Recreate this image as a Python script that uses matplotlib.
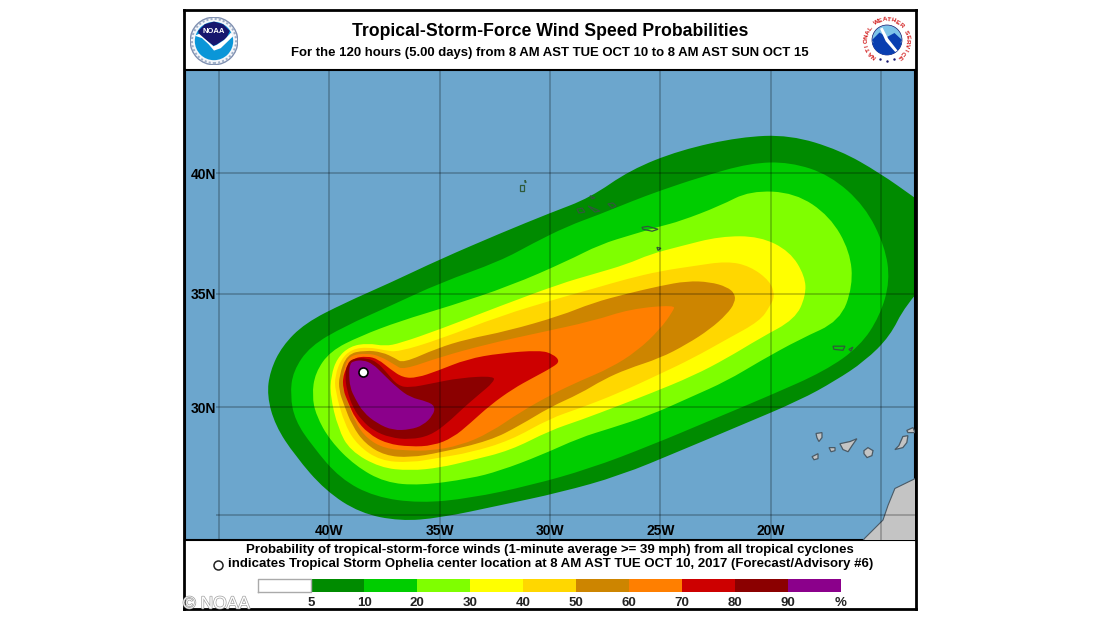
#!/usr/bin/env python3
"""NHC tropical-storm-force wind speed probabilities map, Ophelia advisory #6."""
import matplotlib

matplotlib.use("Agg")
import matplotlib.pyplot as plt
import numpy as np
import matplotlib.patheffects as pe
from matplotlib.patches import Circle, PathPatch, Polygon, Wedge
from matplotlib.path import Path

plt.rcParams["font.family"] = ["Liberation Sans", "DejaVu Sans"]

W, H = 1100, 620

TITLE = "Tropical-Storm-Force Wind Speed Probabilities"
SUBTITLE = "For the 120 hours (5.00 days) from 8 AM AST TUE OCT 10 to 8 AM AST SUN OCT 15"
NOTE_1 = "Probability of tropical-storm-force winds (1-minute average >= 39 mph) from all tropical cyclones"
NOTE_2 = "indicates Tropical Storm Ophelia center location at 8 AM AST TUE OCT 10, 2017 (Forecast/Advisory #6)"

LON_TICKS = [-45, -40, -35, -30, -25, -20, -15]
LON_LABELS = ["", "40W", "35W", "30W", "25W", "20W", ""]
LAT_TICKS = [25, 30, 35, 40]
LAT_LABELS = ["", "30N", "35N", "40N"]

LEGEND_LABELS = ["5", "10", "20", "30", "40", "50", "60", "70", "80", "90", "%"]
LEGEND_COLORS = ["#FFFFFF", "#008B00", "#00CD00", "#7FFF00", "#FFFF00", "#FFD700",
                 "#CD8500", "#FF7F00", "#CD0000", "#8B0000", "#8B008B"]

CENTER_LON = -38.47
CENTER_LAT = 31.57

# probability contours (lon, lat)
LEVEL_05_LON = [-42.81, -42.67, -42.13, -41.09, -39.28, -37.24, -34.98, -32.26, -30.0, -28.19,
                -26.38, -24.12, -21.4, -19.14, -16.88, -15.07, -13.48, -12.35, -12.13, -13.94,
                -14.61, -15.75, -17.1, -18.69, -21.4, -24.12, -26.83, -29.55, -32.26, -34.98,
                -36.79, -38.6, -40.18, -41.54, -42.44]
LEVEL_05_LAT = [30.53, 31.62, 32.72, 33.73, 34.61, 35.46, 36.46, 37.54, 38.38, 39.0,
                40.12, 40.91, 41.43, 41.51, 40.91, 40.0, 39.0, 38.25, 36.38, 34.47,
                33.16, 32.06, 31.18, 30.31, 29.16, 28.0, 26.85, 26.06, 25.46, 24.86,
                24.71, 25.09, 26.16, 27.78, 29.17]
LEVEL_10_LON = [-41.76, -41.63, -40.86, -39.28, -37.24, -34.98, -32.26, -30.77, -29.23, -27.74,
                -26.24, -25.02, -23.21, -20.95, -19.14, -17.33, -15.75, -14.84, -14.61, -15.07,
                -15.97, -17.56, -20.04, -22.76, -25.47, -28.19, -30.9, -33.62, -35.88, -37.92,
                -39.5, -40.77, -41.54]
LEVEL_10_LAT = [30.53, 31.62, 32.72, 33.6, 34.47, 35.46, 36.38, 37.13, 37.83, 38.33,
                38.88, 39.29, 39.83, 40.4, 40.44, 39.92, 38.67, 37.0, 35.54, 34.04,
                32.72, 31.62, 30.53, 29.39, 28.24, 27.18, 26.39, 25.79, 25.56, 25.85,
                26.71, 28.24, 29.4]
LEVEL_20_LON = [-40.77, -40.63, -39.95, -38.6, -36.79, -34.52, -31.81, -29.23, -27.74, -26.24,
                -25.02, -24.12, -22.31, -20.95, -18.91, -17.33, -16.42, -16.29, -16.88, -18.69,
                -20.5, -21.99, -23.66, -25.47, -27.28, -28.64, -30.45, -32.26, -33.62, -35.88,
                -37.47, -38.82, -39.95, -40.59]
LEVEL_20_LAT = [30.53, 31.54, 32.5, 33.16, 33.82, 34.47, 35.33, 36.38, 37.08, 37.5,
                37.83, 38.04, 38.67, 39.29, 39.21, 38.25, 36.79, 35.33, 33.82, 33.03,
                32.06, 31.18, 30.44, 29.63, 29.03, 28.61, 27.78, 27.08, 26.71, 26.39,
                26.53, 27.31, 28.47, 29.63]
LEVEL_30_LON = [-39.95, -39.91, -39.64, -39.05, -38.24, -37.47, -36.79, -34.98, -32.26, -29.55,
                -28.05, -26.52, -25.47, -24.12, -22.31, -20.5, -19.14, -18.46, -18.42, -18.91,
                -20.5, -21.99, -23.53, -25.47, -26.83, -28.64, -30.0, -31.81, -33.62, -34.98,
                -36.33, -37.69, -39.05, -39.59]
LEVEL_30_LAT = [30.53, 31.4, 32.19, 32.72, 32.85, 32.72, 32.85, 33.46, 34.47, 35.42,
                35.83, 36.25, 36.67, 37.0, 37.42, 37.42, 36.79, 35.75, 34.91, 33.9,
                33.07, 32.19, 31.4, 30.61, 30.09, 29.4, 28.94, 28.01, 27.55, 27.22,
                27.08, 27.22, 28.01, 29.03]
LEVEL_40_LON = [-39.73, -39.73, -39.46, -38.96, -38.24, -37.47, -36.88, -34.98, -32.26, -29.55,
                -28.05, -26.52, -25.02, -23.53, -21.99, -20.95, -20.04, -19.82, -20.04, -20.5,
                -21.99, -23.53, -25.02, -26.83, -28.64, -30.0, -31.81, -33.62, -34.98, -36.33,
                -37.69, -38.69, -39.28]
LEVEL_40_LAT = [30.75, 31.4, 32.15, 32.59, 32.68, 32.54, 32.46, 33.03, 34.04, 34.82,
                35.21, 35.63, 35.96, 36.17, 36.38, 36.17, 35.54, 34.91, 34.47, 33.82,
                33.03, 32.19, 31.49, 30.66, 29.95, 29.49, 28.47, 27.92, 27.69, 27.45,
                27.55, 28.24, 29.17]
LEVEL_50_LON = [-39.55, -39.55, -39.19, -38.37, -37.6, -37.01, -36.65, -35.11, -33.76, -31.95,
                -29.55, -28.05, -26.52, -25.02, -23.8, -22.76, -21.99, -21.63, -21.63, -21.99,
                -22.76, -23.8, -25.02, -26.52, -27.6, -28.64, -30.0, -31.36, -32.71, -34.98,
                -36.33, -37.47, -38.37, -38.96, -39.32]
LEVEL_50_LAT = [30.75, 31.4, 32.37, 32.54, 32.46, 32.19, 31.97, 32.63, 33.03, 33.38,
                34.04, 34.61, 35.0, 35.33, 35.54, 35.5, 35.29, 35.0, 34.61, 34.12,
                33.46, 32.81, 32.19, 31.71, 31.23, 30.61, 30.0, 29.17, 28.47, 27.92,
                27.69, 27.78, 28.33, 29.17, 30.09]
LEVEL_60_LON = [-39.41, -39.32, -39.05, -38.28, -37.69, -37.01, -36.65, -34.98, -32.85, -30.59,
                -28.05, -26.38, -24.34, -24.43, -25.02, -26.06, -27.28, -28.64, -29.86, -31.36,
                -32.71, -34.07, -35.43, -36.33, -37.47, -38.28, -38.82, -39.19]
LEVEL_60_LAT = [31.0, 31.8, 32.32, 32.41, 32.28, 31.89, 31.67, 32.24, 32.81, 33.29,
                33.82, 34.34, 34.52, 34.25, 33.46, 32.5, 31.75, 31.18, 30.61, 29.77,
                28.84, 28.24, 28.01, 28.01, 28.1, 28.56, 29.3, 30.31]
LEVEL_70_LON = [-39.37, -39.37, -38.96, -38.28, -37.78, -37.24, -36.65, -36.02, -35.11, -33.76,
                -32.26, -30.45, -29.86, -29.55, -29.86, -30.77, -31.67, -32.71, -33.62, -34.39,
                -35.29, -36.33, -37.38, -38.24, -38.82, -39.14]
LEVEL_70_LAT = [30.79, 31.49, 32.19, 32.28, 32.15, 31.71, 31.32, 31.32, 31.62, 32.15,
                32.41, 32.54, 32.37, 32.06, 31.8, 31.32, 30.83, 30.09, 29.26, 28.61,
                28.24, 28.19, 28.33, 28.8, 29.49, 30.22]
LEVEL_80_LON = [-39.28, -39.19, -38.91, -38.28, -37.83, -37.38, -36.88, -36.33, -35.43, -34.07,
                -32.49, -32.58, -33.17, -33.94, -34.66, -35.43, -36.33, -37.24, -38.01, -38.51,
                -38.91, -39.19]
LEVEL_80_LAT = [31.4, 31.93, 32.19, 32.19, 32.02, 31.54, 30.96, 30.88, 31.05, 31.32,
                31.4, 31.1, 30.61, 29.95, 29.26, 28.7, 28.52, 28.61, 28.94, 29.4,
                29.95, 30.75]
LEVEL_90_LON = [-39.1, -39.05, -38.91, -38.46, -38.01, -37.56, -36.92, -36.33, -35.57, -35.2,
                -35.29, -35.75, -36.33, -37.1, -37.83, -38.46, -38.82, -39.05]
LEVEL_90_LAT = [31.54, 31.93, 32.06, 32.11, 31.93, 31.49, 30.88, 30.44, 30.26, 30.04,
                29.63, 29.17, 28.98, 28.94, 29.26, 29.77, 30.39, 30.88]

AFRICA_LON = [-15.75, -14.93, -14.7, -14.39, -13.48, -13.03, -13.03, -15.97]
AFRICA_LAT = [23.9, 24.76, 25.46, 26.25, 26.71, 26.85, 23.6, 23.6]

# Canaries and the rest, (lons, lats) per island
CANARIES = [
    ([-17.96, -17.69, -17.69, -17.83, -17.92], [28.8, 28.84, 28.61, 28.43, 28.61]),
    ([-17.37, -17.1, -17.1, -17.28], [28.15, 28.15, 28.01, 27.96]),
    ([-16.88, -16.42, -16.11, -16.33, -16.51, -16.74], [28.33, 28.43, 28.56, 28.24, 27.96, 28.06]),
    ([-15.79, -15.61, -15.38, -15.43, -15.65, -15.79], [28.01, 28.15, 28.01, 27.78, 27.69, 27.87]),
    ([-18.14, -17.87, -17.87, -18.05], [27.73, 27.87, 27.64, 27.59]),
    ([-14.21, -14.03, -13.8, -13.85, -14.03, -14.39], [28.24, 28.66, 28.7, 28.38, 28.15, 28.06]),
    ([-13.85, -13.57, -13.48, -13.8], [28.94, 29.07, 28.84, 28.84]),
]
AZORES = [
    ([-31.36, -31.18, -31.18, -31.36], [39.5, 39.5, 39.29, 39.29]),
    ([-31.13, -31.08, -31.13], [39.71, 39.62, 39.62]),
    ([-28.78, -28.55, -28.42, -28.69], [38.54, 38.58, 38.42, 38.38]),
    ([-28.28, -27.74, -27.96], [38.67, 38.46, 38.42]),
    ([-28.19, -27.96, -28.1], [39.08, 39.0, 38.96]),
    ([-27.38, -27.15, -27.01, -27.19], [38.75, 38.79, 38.67, 38.58]),
    ([-25.84, -25.57, -25.11, -25.38, -25.79], [37.79, 37.83, 37.71, 37.63, 37.71]),
    ([-25.16, -24.98, -25.11], [36.96, 36.92, 36.83]),
    ([-17.19, -16.65, -16.74, -17.15], [32.72, 32.72, 32.54, 32.58]),
    ([-16.47, -16.29, -16.38], [32.58, 32.68, 32.5]),
]

OCEAN = "#6CA6CD"
LAND = "#C4C4C4"


def merc(lat):
    return np.arcsinh(np.tan(np.radians(lat)))


def merc_inv(y):
    return np.degrees(np.arctan(np.sinh(y)))


def px_axes(fig, x0, y0, x1, y1, **kw):
    """Axes from a pixel box given with y running down."""
    return fig.add_axes([x0 / W, 1 - y1 / H, (x1 - x0) / W, (y1 - y0) / H], **kw)


def ring_path(lon, lat):
    pts = np.column_stack([lon, lat])
    mids = (pts + np.roll(pts, -1, axis=0)) / 2
    verts = [mids[-1]]
    codes = [Path.MOVETO]
    for p, m in zip(pts, mids):
        verts += [p, m]
        codes += [Path.CURVE3, Path.CURVE3]
    return Path(verts, codes)


def draw_map(fig):
    ax = px_axes(fig, 185, 70, 915, 540)
    ax.set_facecolor(OCEAN)
    ax.set_yscale("function", functions=(merc, merc_inv))
    ax.set_xlim(-46.52, -13.48)
    ax.set_ylim(23.81, 44.0)

    levels = [
        (LEVEL_05_LON, LEVEL_05_LAT), (LEVEL_10_LON, LEVEL_10_LAT), (LEVEL_20_LON, LEVEL_20_LAT),
        (LEVEL_30_LON, LEVEL_30_LAT), (LEVEL_40_LON, LEVEL_40_LAT), (LEVEL_50_LON, LEVEL_50_LAT),
        (LEVEL_60_LON, LEVEL_60_LAT), (LEVEL_70_LON, LEVEL_70_LAT), (LEVEL_80_LON, LEVEL_80_LAT),
        (LEVEL_90_LON, LEVEL_90_LAT),
    ]
    for (lon, lat), color in zip(levels, LEGEND_COLORS[1:]):
        ax.add_patch(PathPatch(ring_path(lon, lat), facecolor=color, edgecolor="none", zorder=2))

    ax.fill(AFRICA_LON, AFRICA_LAT, facecolor=LAND, edgecolor="#4a5a66", lw=0.8, zorder=3)
    for lon, lat in CANARIES:
        ax.fill(lon, lat, facecolor=LAND, edgecolor="#4a5a66", lw=0.9, zorder=3)
    for lon, lat in AZORES:
        ax.fill(lon, lat, facecolor="none", edgecolor="#2f5a3a", lw=0.9, zorder=3)

    # grid stops short of the lat labels on the left
    ax.hlines(LAT_TICKS, -45.1, -13.48, color="black", alpha=0.28, lw=1.1, zorder=4)
    ax.vlines(LON_TICKS, 23.81, 44.0, color="black", alpha=0.28, lw=1.1, zorder=4)

    ax.set_xticks(LON_TICKS, LON_LABELS, fontweight="bold", fontsize=10)
    ax.set_yticks(LAT_TICKS, LAT_LABELS, fontweight="bold", fontsize=10)
    ax.minorticks_off()
    ax.tick_params(axis="x", length=0, pad=-11.8, colors="black")
    ax.tick_params(axis="y", length=0, pad=-22.5, colors="black")
    for label in ax.get_xticklabels() + ax.get_yticklabels():
        label.set_zorder(6)

    ax.plot([CENTER_LON], [CENTER_LAT], "o", ms=6.5, mfc="white", mec="black", mew=1.2, zorder=5)
    for s in ax.spines.values():
        s.set_linewidth(1.5)
    ax.set_axisbelow(False)


def draw_legend(fig):
    ax = px_axes(fig, 258, 579, 841, 592)
    idx = np.arange(len(LEGEND_COLORS))
    ax.bar(idx, np.ones(len(idx)), width=1.0, align="edge", color=LEGEND_COLORS)
    ax.set_xlim(0, len(idx))
    ax.set_ylim(0, 1)
    ax.set_yticks([])
    ax.set_xticks(idx + 1, LEGEND_LABELS, fontweight="bold", fontsize=9.5, color="#222222")
    ax.tick_params(axis="x", length=0, pad=3.5)
    for s in ax.spines.values():
        s.set_visible(False)
    ax.plot([0, 1, 1, 0, 0], [0, 0, 1, 1, 0], color="#aaaaaa", lw=1, clip_on=False)


def noaa_logo(fig):
    ax = px_axes(fig, 190, 17, 238, 65)
    ax.set_xlim(-1, 1)
    ax.set_ylim(-1, 1)
    ax.axis("off")
    ax.add_patch(Circle((0, 0), 0.99, fc="#f4f6fa", ec="#7f8fb0", lw=1))
    ax.add_patch(Circle((0, 0), 0.92, fc="none", ec="#9fb0c8", lw=1.5, ls=(0, (1, 1))))
    ax.add_patch(Circle((0, 0), 0.8, fc="#0a96d8", ec="none"))
    ax.add_patch(Polygon([(-0.66, 0.42), (-0.38, 0.7), (0.0, 0.81), (0.38, 0.7), (0.66, 0.42),
                          (0.52, 0.12), (0.12, -0.14), (-0.02, -0.2), (-0.3, 0.02), (-0.62, 0.22)],
                         fc="#16166e", ec="none"))
    ax.add_patch(Polygon([(-0.8, 0.22), (-0.5, 0.12), (-0.22, -0.14), (0.0, -0.4), (0.28, -0.3),
                          (0.8, 0.2), (0.72, 0.36), (0.42, 0.04), (0.12, -0.16), (-0.02, -0.22),
                          (-0.3, 0.02), (-0.62, 0.3)], fc="white", ec="none"))
    ax.text(0, 0.4, "NOAA", color="white", fontsize=5.5, fontweight="bold", ha="center", va="center")


def nws_logo(fig):
    ax = px_axes(fig, 862, 15, 912, 65)
    ax.set_xlim(-1, 1)
    ax.set_ylim(-1, 1)
    ax.axis("off")
    ax.add_patch(Circle((0, 0), 0.98, fc="white", ec="none"))
    ax.add_patch(Circle((0, 0), 0.6, fc="#7ec3e8", ec="#16166e", lw=0.5))
    ax.add_patch(Wedge((0, 0), 0.6, 190, 350, fc="#0a3fb0", ec="none"))
    ax.add_patch(Polygon([(-0.6, 0.0), (-0.3, 0.3), (0.0, 0.12), (0.3, 0.28), (0.6, 0.0), (0.4, -0.3),
                          (-0.4, -0.3)], fc="#0a3fb0", ec="none"))
    ax.add_patch(Polygon([(-0.28, 0.45), (-0.18, 0.5), (0.05, 0.05), (0.42, -0.42), (0.33, -0.48),
                          (-0.05, -0.05)], fc="white", ec="none"))
    text = "NATIONAL WEATHER SERVICE"
    for ch, theta in zip(text, np.linspace(232, -52, len(text))):
        ax.text(0.82 * np.cos(np.radians(theta)), 0.82 * np.sin(np.radians(theta)), ch,
                rotation=theta - 90, rotation_mode="anchor", ha="center", va="center",
                fontsize=4.6, fontweight="bold", color="#d01818")
    for theta in [250, 270, 290]:
        ax.plot(0.82 * np.cos(np.radians(theta)), 0.82 * np.sin(np.radians(theta)), ".",
                color="#16166e", ms=1.5)


def main():
    fig = plt.figure(figsize=(W / 100, H / 100), dpi=100, facecolor="white")

    frame = px_axes(fig, 184, 10, 916, 609)
    frame.set_xticks([])
    frame.set_yticks([])
    for s in frame.spines.values():
        s.set_linewidth(2)

    draw_map(fig)
    draw_legend(fig)
    noaa_logo(fig)
    nws_logo(fig)

    fig.text(550.5 / W, 1 - 31 / H, TITLE, fontsize=12.7, fontweight="bold", ha="center", va="center")
    fig.text(550 / W, 1 - 53 / H, SUBTITLE, fontsize=9.45, fontweight="bold", ha="center", va="center")
    fig.text(550 / W, 1 - 549.5 / H, NOTE_1, fontsize=9.5, fontweight="bold", ha="center", va="center")
    fig.text(228 / W, 1 - 564.5 / H, NOTE_2, fontsize=9.5, fontweight="bold", ha="left", va="center")
    fig.add_artist(plt.Line2D([218 / W], [1 - 564.5 / H], marker="o", ms=6.5, mfc="white", mec="#222222",
                              mew=1.1, transform=fig.transFigure))

    fig.text(183 / W, 1 - 604 / H, "© NOAA", fontsize=12.5, color="white", ha="left", va="center",
             path_effects=[pe.withStroke(linewidth=1.0, foreground="#a0a0a0")])

    fig.savefig("out.png", dpi=100)
    plt.close(fig)


if __name__ == "__main__":
    main()
